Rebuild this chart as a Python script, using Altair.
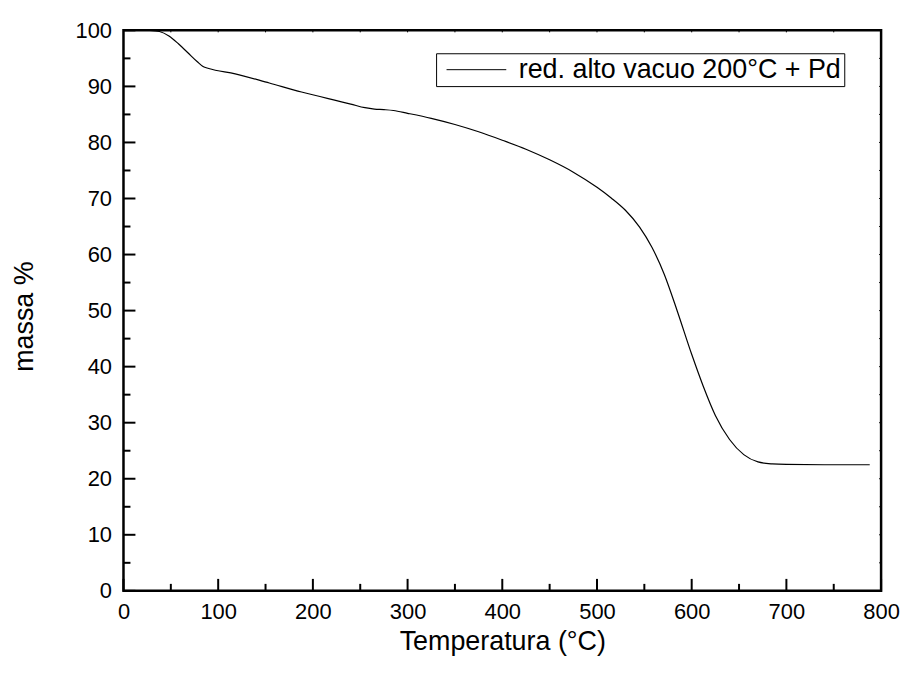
import altair as alt
import pandas as pd

# ---- data ----
temp = [28, 38, 48, 58, 68, 78, 84, 90, 118, 154, 188, 224, 240, 255, 265, 275, 285,
        300, 325, 350, 375, 400, 425, 450, 475, 500, 515, 530, 545, 558, 571, 585,
        600, 612, 625, 640, 655, 670, 685, 700, 740, 788]
mass = [100, 99.8, 99.0, 97.6, 96.0, 94.4, 93.55, 93.2, 92.25, 90.6, 89.0, 87.5,
        86.85, 86.2, 85.95, 85.85, 85.7, 85.2, 84.3, 83.2, 81.9, 80.4, 78.8, 76.9,
        74.7, 72.0, 70.1, 67.9, 64.9, 61.3, 56.5, 49.8, 42.2, 36.6, 31.3, 27.0,
        24.3, 23.0, 22.65, 22.55, 22.5, 22.5]
series_name = "red. alto vacuo 200°C + Pd"

x_major = list(range(0, 801, 100))
x_minor = list(range(50, 800, 100))
y_major = list(range(0, 101, 10))
y_minor = list(range(5, 100, 10))

W, H = 761, 563
FONT = "Liberation Sans"

df = pd.DataFrame({"T": temp, "m": mass, "serie": [series_name] * len(temp)})

xscale = alt.Scale(domain=[0, 800], nice=False, zero=False)
yscale = alt.Scale(domain=[0, 100], nice=False, zero=False)

xaxis = alt.Axis(values=x_major, title="Temperatura (°C)", labelPadding=11,
                 labelFlush=False, titleX=380.5, titleY=59,
                 titleBaseline="alphabetic", titleAlign="center")
yaxis = alt.Axis(values=y_major, title="massa %", labelPadding=12, labelFlush=False,
                 titleX=-91, titleY=287, titleAngle=270,
                 titleBaseline="alphabetic", titleAlign="center")

legend = alt.Legend(title=None, orient="none", legendX=314, legendY=23,
                    strokeColor="black", fillColor="white", padding=3,
                    cornerRadius=0, symbolType="M-0.6,0H5.4",
                    symbolSize=400, symbolStrokeWidth=1,
                    labelFontSize=27, labelFont=FONT,
                    labelColor="black", labelOffset=53, labelLimit=600)

line = alt.Chart(df).mark_line(strokeWidth=1.2, interpolate="monotone").encode(
    x=alt.X("T:Q", scale=xscale, axis=xaxis),
    y=alt.Y("m:Q", scale=yscale, axis=yaxis),
    color=alt.Color("serie:N", scale=alt.Scale(range=["black"]), legend=legend),
)


def xticks(vals, y_a, y_b, sw):
    return alt.Chart(pd.DataFrame({"T": vals})).mark_rule(color="black", strokeWidth=sw).encode(
        x=alt.X("T:Q", scale=xscale, axis=xaxis),
        y=alt.value(y_a), y2=alt.value(y_b))


def yticks(vals, x_a, x_b, sw):
    return alt.Chart(pd.DataFrame({"m": vals})).mark_rule(color="black", strokeWidth=sw).encode(
        y=alt.Y("m:Q", scale=yscale, axis=yaxis),
        x=alt.value(x_a), x2=alt.value(x_b))


layers = [
    line,
    xticks(x_major, H, H - 12, 2),
    xticks(x_minor, H, H - 7, 2),
    xticks(x_major + x_minor, 0, 2, 1),
    yticks(y_major, 0, 12, 2),
    yticks(y_minor, 0, 7, 2),
    yticks(y_major + y_minor, W, W - 2, 1),
]

chart = alt.layer(*layers).properties(
    width=W, height=H,
    padding={"left": 116, "top": 21, "right": 20, "bottom": 66},
    autosize=alt.AutoSizeParams(type="none"),
    background="white",
).configure_view(
    stroke="black", strokeWidth=2.5
).configure_axis(
    labelFont=FONT, labelFontSize=22, labelColor="black",
    titleFont=FONT, titleFontSize=27, titleFontWeight="normal", titleColor="black",
    domain=False, tickSize=0, tickOpacity=0, grid=False,
)

chart.save("out.html", embed_options={"renderer": "svg", "actions": False})
